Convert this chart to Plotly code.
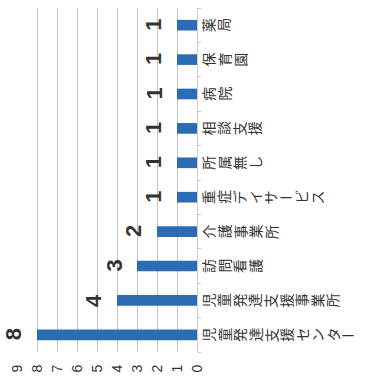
import plotly.graph_objects as go

# Categories (bottom to top) and counts
categories = ["児童発達支援センター", "児童発達支援事業所", "訪問看護", "介護事業所",
              "重症デイサービス", "所属無し", "相談支援", "病院", "保育園", "薬局"]
counts = [8, 4, 3, 2, 1, 1, 1, 1, 1, 1]
value_ticks = [0, 1, 2, 3, 4, 5, 6, 7, 8, 9]

BAR_COLOR = "#2b6cb4"
TEXT_COLOR = "#333333"
CHAR_PITCH = 15.6  # horizontal spacing of the sideways category characters

fig = go.Figure(
    go.Bar(
        x=counts,
        y=categories,
        orientation="h",
        marker=dict(color=BAR_COLOR, line=dict(width=0)),
        hoverinfo="skip",
    )
)

annotations = []

# Value labels next to each bar, turned sideways
for cat, val in zip(categories, counts):
    annotations.append(dict(
        x=val, y=cat, xref="x", yref="y",
        text=str(val), showarrow=False,
        xanchor="right", yanchor="middle", xshift=-9,
        textangle=-90,
        font=dict(family="Liberation Sans, Arial", size=22, color=TEXT_COLOR, weight="bold"),
    ))

# Category names: one character per annotation, laid out left to right,
# each glyph turned sideways (the long vowel mark stays flat)
for cat in categories:
    for i, ch in enumerate(cat):
        annotations.append(dict(
            x=1, y=cat, xref="paper", yref="y",
            text=ch, showarrow=False,
            xanchor="center", yanchor="middle",
            xshift=11 + CHAR_PITCH * i,
            textangle=0 if ch == "ー" else -90,
            font=dict(family="Noto Sans CJK JP", size=14, color=TEXT_COLOR),
        ))

fig.update_layout(
    width=371, height=381,
    margin=dict(l=17, r=174, t=8, b=29),
    paper_bgcolor="white", plot_bgcolor="white",
    bargap=0.69,
    showlegend=False,
    annotations=annotations,
    xaxis=dict(
        range=[9, 0],
        tickmode="array", tickvals=value_ticks, ticktext=[str(v) for v in value_ticks],
        tickangle=-90,
        showgrid=True, gridcolor="#c4c4c4", gridwidth=1,
        zeroline=False, showline=False,
        ticks="", ticklabelstandoff=9,
        tickfont=dict(family="Liberation Sans, Arial", size=14, color=TEXT_COLOR),
        fixedrange=True,
    ),
    yaxis=dict(
        side="right",
        categoryorder="array", categoryarray=categories,
        showticklabels=False,
        showline=True, linecolor="#c9cdd6", linewidth=1,
        ticks="outside", ticklen=3, tickcolor="#c9cdd6", tickson="boundaries",
        showgrid=False, zeroline=False,
        fixedrange=True,
    ),
)

fig.write_html("out.html")
